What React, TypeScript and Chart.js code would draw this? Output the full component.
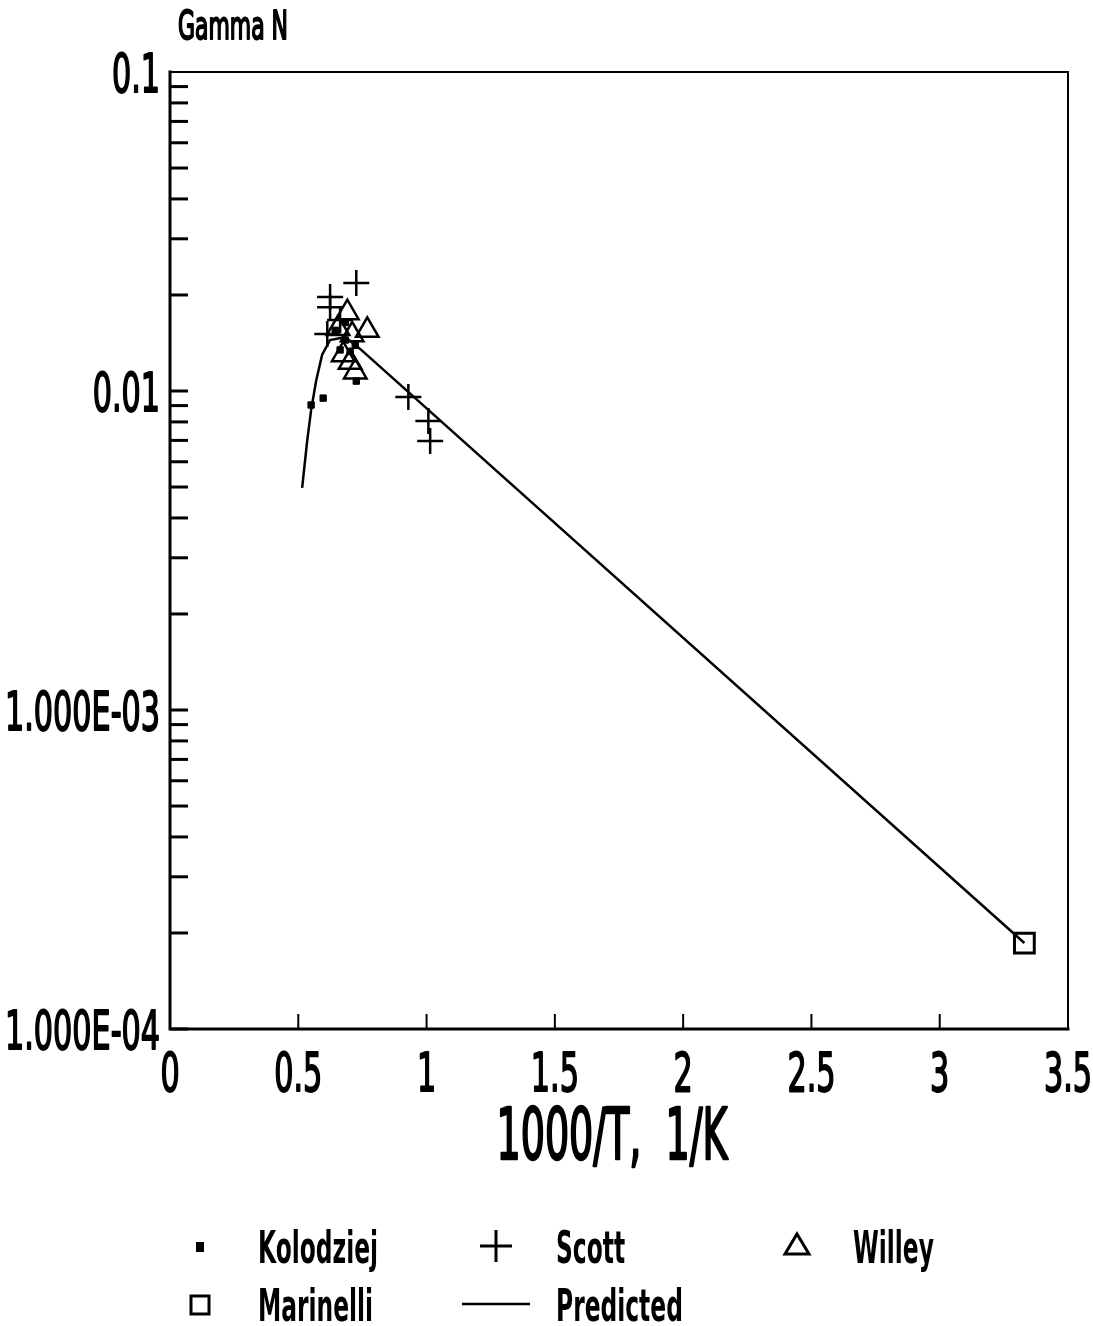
import React, { useEffect, useRef } from "react";
import { Chart, registerables } from "chart.js";

Chart.register(...registerables);

// Predicted gamma_N curve vs 1000/T
const predictedX = [0.515, 0.535, 0.55, 0.57, 0.593, 0.624, 0.683, 0.741, 3.33];
const predictedY = [0.00497, 0.00702, 0.00871, 0.0108, 0.013, 0.01445, 0.01476, 0.01355, 0.000186];

// Measured data sets
const kolodziejX = [0.55, 0.597, 0.726, 0.644, 0.683, 0.722, 0.663, 0.702, 0.683];
const kolodziejY = [0.00904, 0.0095, 0.01074, 0.0155, 0.01445, 0.0139, 0.01345, 0.0133, 0.0164];

const scottX = [0.726, 0.624, 0.624, 0.613, 0.663, 0.929, 1.007, 1.014];
const scottY = [0.0218, 0.0197, 0.0183, 0.0151, 0.0167, 0.00957, 0.00805, 0.00697];

const willeyX = [0.691, 0.769, 0.655, 0.71, 0.675, 0.702, 0.722];
const willeyY = [0.0176, 0.0155, 0.0157, 0.015, 0.013, 0.0123, 0.01148];

const marinelliX = [3.33];
const marinelliY = [0.000186];

// Axis tick labels
const xTickValues = [0, 0.5, 1, 1.5, 2, 2.5, 3, 3.5];
const xTickLabels = ["0", "0.5", "1", "1.5", "2", "2.5", "3", "3.5"];
const yTickValues = [0.1, 0.01, 0.001, 0.0001];
const yTickLabels = ["0.1", "0.01", "1.000E-03", "1.000E-04"];

const xTitle = "1000/T,  1/K";
const yTitle = "Gamma N";

const FONT = '"Liberation Sans Narrow", "DejaVu Sans Condensed", "DejaVu Sans", sans-serif';

const zip = (xs: number[], ys: number[]) => xs.map((x, i) => ({ x, y: ys[i] }));

type Sc = { sx: number; sy: number; weight: string; pen: number };

function textScale(
  ctx: CanvasRenderingContext2D,
  sample: string,
  width: number,
  capH: number,
  weight: string,
  pen: number
): Sc {
  ctx.font = `${weight} 40px ${FONT}`;
  const w = ctx.measureText(sample).width;
  const h = ctx.measureText("H").actualBoundingBoxAscent || 29;
  return { sx: width / w, sy: capH / h, weight, pen };
}

// Stretched text with an extra pen stroke for a plotter-like weight
function drawText(
  ctx: CanvasRenderingContext2D,
  text: string,
  x: number,
  baseline: number,
  sc: Sc,
  align: CanvasTextAlign
) {
  ctx.save();
  ctx.translate(x, baseline);
  ctx.scale(sc.sx, sc.sy);
  ctx.font = `${sc.weight} 40px ${FONT}`;
  ctx.textAlign = align;
  ctx.textBaseline = "alphabetic";
  ctx.fillStyle = "#000";
  ctx.fillText(text, 0, 0);
  if (sc.pen > 0) {
    ctx.strokeStyle = "#000";
    ctx.lineJoin = "round";
    ctx.lineWidth = sc.pen;
    ctx.strokeText(text, 0, 0);
  }
  ctx.restore();
}

const framePlugin = {
  id: "plotterFrame",
  afterDraw(chart: any) {
    const ctx: CanvasRenderingContext2D = chart.ctx;
    const { left, right, top, bottom } = chart.chartArea;
    const xs = chart.scales.x;
    const ys = chart.scales.y;
    ctx.save();
    ctx.strokeStyle = "#000";
    ctx.lineCap = "square";

    // frame
    ctx.lineWidth = 3;
    ctx.beginPath();
    ctx.moveTo(left, top);
    ctx.lineTo(left, bottom);
    ctx.lineTo(right, bottom);
    ctx.stroke();
    ctx.lineWidth = 2;
    ctx.beginPath();
    ctx.moveTo(left, top);
    ctx.lineTo(right, top);
    ctx.lineTo(right, bottom);
    ctx.stroke();

    // inward y ticks (every 1..9 x 10^n)
    ctx.lineWidth = 3;
    ctx.lineCap = "butt";
    for (let d = -4; d <= -2; d++) {
      for (let m = 1; m <= 9; m++) {
        const v = m * Math.pow(10, d);
        const py = ys.getPixelForValue(v);
        ctx.beginPath();
        ctx.moveTo(left, py);
        ctx.lineTo(left + 18, py);
        ctx.stroke();
      }
    }
    // inward x ticks
    ctx.lineWidth = 2;
    for (const v of xTickValues) {
      const px = xs.getPixelForValue(v);
      ctx.beginPath();
      ctx.moveTo(px, bottom);
      ctx.lineTo(px, bottom - 15);
      ctx.stroke();
    }

    // tick labels
    const tickSc = textScale(ctx, "1.000E-03", 155, 40, "normal", 1.4);
    yTickValues.forEach((v, i) => {
      const py = ys.getPixelForValue(v);
      drawText(ctx, yTickLabels[i], left - 10, py + 20, tickSc, "right");
    });
    xTickValues.forEach((v, i) => {
      const px = xs.getPixelForValue(v);
      drawText(ctx, xTickLabels[i], px, bottom + 62, tickSc, "center");
    });

    // axis titles
    const titleSc = textScale(ctx, xTitle, 231, 54, "normal", 1.4);
    drawText(ctx, xTitle, 612, bottom + 130, titleSc, "center");
    const ySc = textScale(ctx, yTitle, 110, 29, "normal", 2);
    drawText(ctx, yTitle, 178, 39, ySc, "left");

    // legend
    const legSc = textScale(ctx, "Kolodziej", 120, 33, "bold", 0);
    const r1 = 1263;
    const r2 = 1321;
    ctx.fillStyle = "#000";
    ctx.lineWidth = 3;
    ctx.lineCap = "butt";
    // Kolodziej marker
    ctx.fillRect(196, 1242, 8, 10);
    drawText(ctx, "Kolodziej", 258, r1, legSc, "left");
    // Scott marker
    ctx.beginPath();
    ctx.moveTo(480, 1246);
    ctx.lineTo(512, 1246);
    ctx.moveTo(496, 1230);
    ctx.lineTo(496, 1262);
    ctx.stroke();
    drawText(ctx, "Scott", 556, r1, legSc, "left");
    // Willey marker
    ctx.beginPath();
    ctx.moveTo(797, 1234);
    ctx.lineTo(809, 1254);
    ctx.lineTo(785, 1254);
    ctx.closePath();
    ctx.stroke();
    drawText(ctx, "Willey", 853, r1, legSc, "left");
    // Marinelli marker
    ctx.strokeRect(191, 1296, 18, 18);
    drawText(ctx, "Marinelli", 258, r2, legSc, "left");
    // Predicted line
    ctx.lineWidth = 2.5;
    ctx.beginPath();
    ctx.moveTo(462, 1304);
    ctx.lineTo(530, 1304);
    ctx.stroke();
    drawText(ctx, "Predicted", 556, r2, legSc, "left");

    ctx.restore();
  },
};

export default function App() {
  const canvasRef = useRef<HTMLCanvasElement | null>(null);

  useEffect(() => {
    const canvas = canvasRef.current;
    if (!canvas) return;
    const chart = new Chart(canvas, {
      type: "scatter",
      data: {
        datasets: [
          {
            label: "Predicted",
            data: zip(predictedX, predictedY),
            showLine: true,
            borderColor: "#000",
            borderWidth: 2.5,
            pointRadius: 0,
            fill: false,
            tension: 0,
          },
          {
            label: "Kolodziej",
            data: zip(kolodziejX, kolodziejY),
            pointStyle: "rect",
            pointRadius: 4.5,
            borderWidth: 1,
            borderColor: "#000",
            backgroundColor: "#000",
          },
          {
            label: "Scott",
            data: zip(scottX, scottY),
            pointStyle: "cross",
            pointRadius: 13,
            borderWidth: 2.5,
            borderColor: "#000",
            backgroundColor: "#000",
          },
          {
            label: "Willey",
            data: zip(willeyX, willeyY),
            pointStyle: "triangle",
            pointRadius: 13,
            borderWidth: 2.5,
            borderColor: "#000",
            backgroundColor: "rgba(0,0,0,0)",
          },
          {
            label: "Marinelli",
            data: zip(marinelliX, marinelliY),
            pointStyle: "rect",
            pointRadius: 14,
            borderWidth: 3,
            borderColor: "#000",
            backgroundColor: "rgba(0,0,0,0)",
          },
        ],
      },
      options: {
        responsive: false,
        animation: false,
        events: [],
        layout: { padding: { top: 72, right: 25, left: 0, bottom: 0 } },
        plugins: {
          legend: { display: false },
          tooltip: { enabled: false },
          title: { display: false },
        },
        scales: {
          x: {
            type: "linear",
            min: 0,
            max: 3.5,
            grid: { display: false, drawTicks: false },
            border: { display: false },
            ticks: { display: false },
            afterFit: (s: any) => {
              s.height = 297;
            },
          },
          y: {
            type: "logarithmic",
            min: 0.0001,
            max: 0.1,
            grid: { display: false, drawTicks: false },
            border: { display: false },
            ticks: { display: false },
            afterFit: (s: any) => {
              s.width = 170;
            },
          },
        },
      } as any,
      plugins: [framePlugin],
    });
    return () => chart.destroy();
  }, []);

  return (
    <div style={{ position: "absolute", left: 0, top: 0, width: 1093, height: 1326, background: "#fff" }}>
      <canvas ref={canvasRef} width={1093} height={1326} style={{ display: "block" }} />
    </div>
  );
}
